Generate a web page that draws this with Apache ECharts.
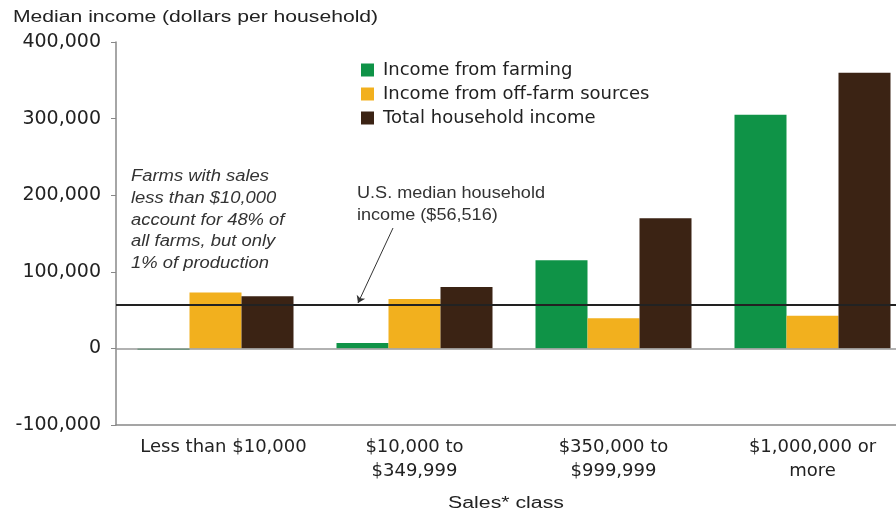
<!DOCTYPE html>
<html><head><meta charset="utf-8">
<script src="https://cdn.jsdelivr.net/npm/echarts@6/dist/echarts.min.js"></script>
<style>html,body{margin:0;padding:0;background:#fff;overflow:hidden}#c{width:912px;height:517px}</style>
</head><body><div id="c"></div>
<script>
var categories = ['Less than $10,000', '$10,000 to\n$349,999', '$350,000 to\n$999,999', '$1,000,000 or\nmore'];
var farmIncome = [-2000, 7000, 115000, 305000];
var offFarmIncome = [73000, 64500, 39500, 42500];
var totalIncome = [68000, 80000, 170000, 360000];
var usMedian = 56516;
var yTicks = [-100000, 0, 100000, 200000, 300000, 400000];

var FONT = '"Liberation Sans", Arial, Helvetica, sans-serif';
var WIDE = '"DejaVu Sans", Verdana, sans-serif';
var chart = echarts.init(document.getElementById('c'));
chart.setOption({
  animation: false,
  textStyle: {fontFamily: WIDE},
  grid: {left: 116, top: 42, bottom: 92, right: 0, containLabel: false},
  legend: {
    orient: 'vertical', left: 356, top: 56, itemWidth: 13, itemHeight: 13, itemGap: 6,
    textStyle: {fontSize: 18, lineHeight: 18, color: '#222', fontFamily: WIDE, padding: [0, 0, 0, 4]},
    icon: 'rect'
  },
  xAxis: {
    type: 'category', data: categories,
    axisLine: {onZero: false, lineStyle: {color: '#888', width: 1.5}},
    axisTick: {show: false},
    axisLabel: {interval: 0, fontSize: 18, color: '#222', lineHeight: 24, margin: 10, fontFamily: WIDE,
      formatter: function (v, i) { return i === 0 ? '{s|' + v + '}' : v; },
      rich: {s: {fontSize: 18, color: '#222', lineHeight: 24, fontFamily: WIDE, padding: [0, 0, 0, 16]}}}
  },
  yAxis: {
    type: 'value', min: yTicks[0], max: yTicks[yTicks.length - 1], interval: 100000,
    axisLine: {show: true, lineStyle: {color: '#888', width: 1.5}},
    axisTick: {show: true, length: 5, lineStyle: {color: '#888'}},
    splitLine: {show: false},
    axisLabel: {fontSize: 19, color: '#222', margin: 15, fontFamily: WIDE,
      formatter: function (v) { return v.toLocaleString('en-US'); }}
  },
  series: [
    {name: 'Income from farming', type: 'bar', data: farmIncome, barWidth: 52, barGap: '0%',
     itemStyle: {color: '#0f9347'},
     markLine: {silent: true, symbol: 'none', label: {show: false},
       data: [{yAxis: 0, lineStyle: {color: '#999', width: 1.5, type: 'solid'}}]}},
    {name: 'Income from off-farm sources', type: 'bar', data: offFarmIncome, barWidth: 52, barGap: '0%',
     itemStyle: {color: '#f2b01e'}},
    {name: 'Total household income', type: 'bar', data: totalIncome, barWidth: 52, barGap: '0%',
     itemStyle: {color: '#3b2314'},
     markLine: {silent: true, symbol: 'none', label: {show: false}, z: 10,
       data: [
         {yAxis: usMedian, lineStyle: {color: '#222', width: 2, type: 'solid'}},
         [{x: 393, y: 228, symbol: 'none', lineStyle: {color: '#333', width: 1, type: 'solid'}},
          {x: 358, y: 303, symbol: 'arrow', symbolSize: 7}]
       ]}}
  ],
  graphic: [
    {type: 'text', x: 13, y: 18, scaleX: 1.32, style: {text: 'Median income (dollars per household)', font: '16px ' + FONT, fill: '#222', textVerticalAlign: 'middle'}},
    {type: 'text', x: 131, y: 166, scaleX: 1.15, style: {text: 'Farms with sales\nless than $10,000\naccount for 48% of\nall farms, but only\n1% of production', font: 'italic 16px ' + FONT, lineHeight: 21.7, fill: '#333'}},
    {type: 'text', x: 357, y: 183, scaleX: 1.13, style: {text: 'U.S. median household\nincome ($56,516)', font: '16px ' + FONT, lineHeight: 21.7, fill: '#333'}},
    {type: 'text', x: 506, y: 504, scaleX: 1.33, style: {text: 'Sales* class', font: '16px ' + FONT, fill: '#222', textAlign: 'center', textVerticalAlign: 'middle'}}
  ]
});
</script></body></html>
